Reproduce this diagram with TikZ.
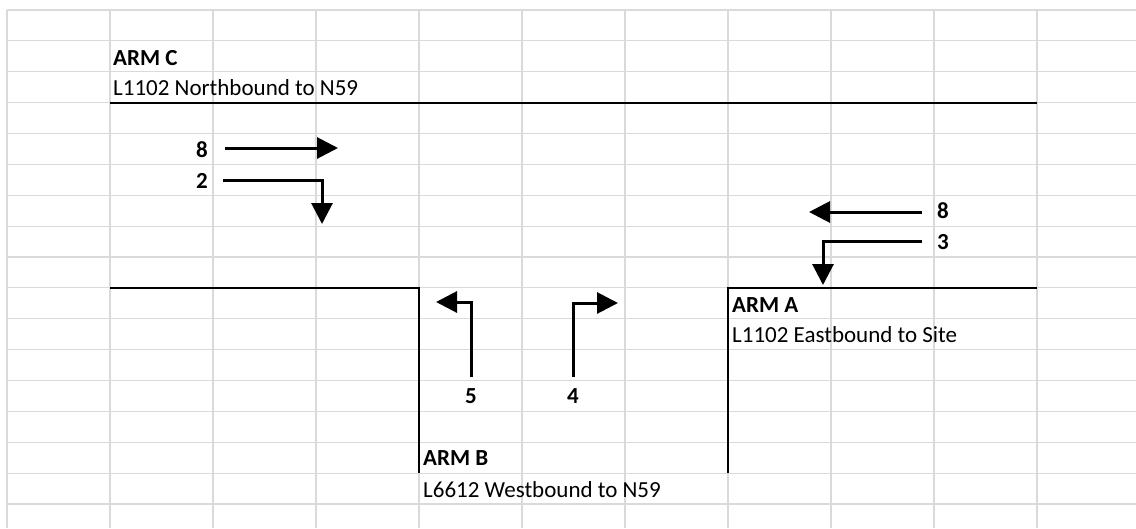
\documentclass[tikz,border=0pt]{standalone}
\usepackage{fontspec}
\setmainfont{Carlito}
\usetikzlibrary{arrows.meta}
\definecolor{gridgray}{RGB}{218,218,218}
\begin{document}
\begin{tikzpicture}[x=1pt,y=-1pt,
  gridline/.style={draw=gridgray, line width=1.2pt},
  road/.style={draw=black, line width=2pt},
  flow/.style={draw=black, line width=3pt, -{Triangle[length=21pt,width=21pt]}},
  lbl/.style={font=\fontsize{23}{26}\selectfont, inner sep=0pt, anchor=base west},
  armlbl/.style={font=\fontsize{23}{26}\selectfont\bfseries, inner sep=0pt, anchor=base west},
  numlbl/.style={font=\fontsize{23}{26}\selectfont\bfseries, inner sep=0pt}]
\useasboundingbox (0,0) rectangle (1136,528);
\fill[white] (0,0) rectangle (1136,528);
% spreadsheet grid
\foreach \i in {0,...,10} \draw[gridline] ({7+103*\i},10) -- ({7+103*\i},528);
\foreach \j in {0,...,16} \draw[gridline] (7,{10+30.875*\j}) -- (1136,{10+30.875*\j});
% road edges
\coordinate (c1) at (110,102.6);
\coordinate (c2) at (1037,102.6);
\draw[road] (c1) -- (c2);
\coordinate (l1) at (110,287.9);
\coordinate (l2) at (419,287.9);
\coordinate (l3) at (419,473.1);
\draw[road] (l1) -- (l2) -- (l3);
\coordinate (r1) at (728,473.1);
\coordinate (r2) at (728,287.9);
\coordinate (r3) at (1037,287.9);
\draw[road] (r1) -- (r2) -- (r3);
% labels
\node[armlbl] (armC) at (113,65) {ARM C};
\node[lbl] (descC) at (113,95) {L1102 Northbound to N59};
\node[armlbl] (armA) at (732,312) {ARM A};
\node[lbl] (descA) at (732,342) {L1102 Eastbound to Site};
\node[armlbl] (armB) at (423,465) {ARM B};
\node[lbl] (descB) at (423,497) {L6612 Westbound to N59};
% counts
\node[numlbl, anchor=base east] (nC8) at (208,157) {8};
\node[numlbl, anchor=base east] (nC2) at (208,188) {2};
\node[numlbl, anchor=base west] (nA8) at (937,218) {8};
\node[numlbl, anchor=base west] (nA3) at (937,249) {3};
\node[numlbl, anchor=base] (nB5) at (471,403) {5};
\node[numlbl, anchor=base] (nB4) at (573,403) {4};
% movement arrows
\coordinate (sC8) at (225,148);  \coordinate (eC8) at (338,148);
\coordinate (sC2) at (223,180);  \coordinate (eC2) at (322,224);
\coordinate (sA8) at (922,212);  \coordinate (eA8) at (809,212);
\coordinate (sA3) at (922,241);  \coordinate (eA3) at (823,285);
\coordinate (sB5) at (471,377);  \coordinate (eB5) at (436,302);
\coordinate (sB4) at (573,377);  \coordinate (eB4) at (618,303);
\draw[flow] (sC8) -- (eC8);
\draw[flow] (sC2) -| (eC2);
\draw[flow] (sA8) -- (eA8);
\draw[flow] (sA3) -| (eA3);
\draw[flow] (sB5) |- (eB5);
\draw[flow] (sB4) |- (eB4);
\end{tikzpicture}
\end{document}
